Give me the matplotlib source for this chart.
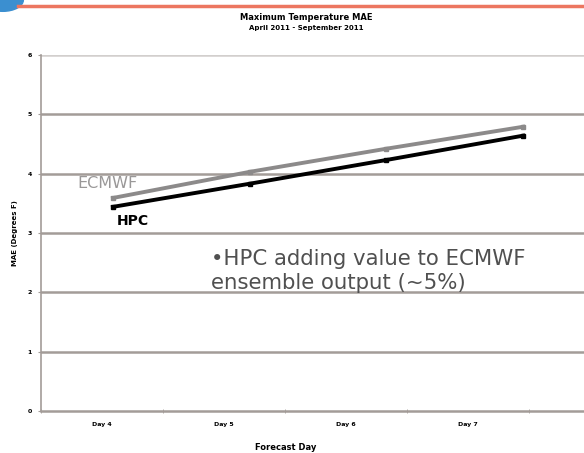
import matplotlib.pyplot as plt
import numpy as np
from matplotlib.patches import Ellipse

# Data
days = ["Day 4", "Day 5", "Day 6", "Day 7"]
ecmwf_mae = [3.59, 4.03, 4.42, 4.79]
hpc_mae = [3.44, 3.83, 4.23, 4.64]

fig = plt.figure(figsize=(5.84, 4.53), dpi=100)

# decorative banner line and corner swoosh from the slide
fig.add_artist(plt.Line2D([0.03, 1.0], [0.987, 0.987], color="#ec7660", lw=2.5,
                          transform=fig.transFigure))
fig.add_artist(Ellipse((0.005, 1.0), 0.07, 0.05, color="#3b8fd0",
                       transform=fig.transFigure))

ax = fig.add_axes([0.0702, 0.0927, 0.9298, 0.786])
grid_col = "#a39c98"

# category axis (bottom)
x = np.arange(len(days))
ax.set_xlim(-0.5, 3.95)
ax.set_ylim(0, 6)
ax.set_xticks(x)
ax.set_xticklabels(days, fontsize=4.5, fontweight="bold")
ax.set_xticks(np.arange(len(days) + 1) - 0.5, minor=True)
ax.tick_params(axis="x", which="major", length=0, pad=8)
ax.tick_params(axis="x", which="minor", length=2.5, color=grid_col, direction="inout")
ax.set_yticks(range(7))
ax.set_yticklabels([str(v) for v in range(7)], fontsize=4.5, fontweight="bold")
ax.tick_params(axis="y", length=2.5, color=grid_col, pad=4)

for v in range(1, 7):
  ax.axhline(v, color=grid_col if v < 6 else "#d2cfcd", lw=1.8, zorder=1)

for s in ["top", "right"]:
  ax.spines[s].set_visible(False)
ax.spines["left"].set_color(grid_col)
ax.spines["bottom"].set_color(grid_col)
ax.spines["left"].set_linewidth(1.2)
ax.spines["bottom"].set_linewidth(1.8)

ax.set_xlabel("Forecast Day", fontsize=6, fontweight="bold")
ax.xaxis.set_label_coords(0.45, -0.09)
ax.set_ylabel("MAE (Degrees F)", fontsize=5, fontweight="bold")
ax.yaxis.set_label_coords(-0.042, 0.5)

# data lines live on their own x scale (they are offset from the labels in the source)
ax2 = ax.twiny()
ax2.set_xlim(-0.526, 3.445)
ax2.set_ylim(0, 6)
ax2.axis("off")
ax2.plot(x, ecmwf_mae, color="#8c8a8a", lw=2.8, marker="s", ms=3, zorder=3)
ax2.plot(x, hpc_mae, color="black", lw=2.8, marker="s", ms=3.5, zorder=4)

ax2.text(-0.04, 3.84, "ECMWF", color="#9a9898", fontsize=11.5, ha="center", va="center")
ax2.text(0.146, 3.2, "HPC", color="black", fontsize=10, fontweight="bold",
         ha="center", va="center")
ax2.text(0.72, 2.36, "\u2022HPC adding value to ECMWF\nensemble output (~5%)",
         color="#505050", fontsize=15.3, ha="left", va="center", linespacing=1.3)

fig.text(0.525, 0.962, "Maximum Temperature MAE", fontsize=6, fontweight="bold",
         ha="center", va="center")
fig.text(0.525, 0.938, "April 2011 - September 2011", fontsize=5, fontweight="bold",
         ha="center", va="center")

fig.savefig("out.png", dpi=100)
